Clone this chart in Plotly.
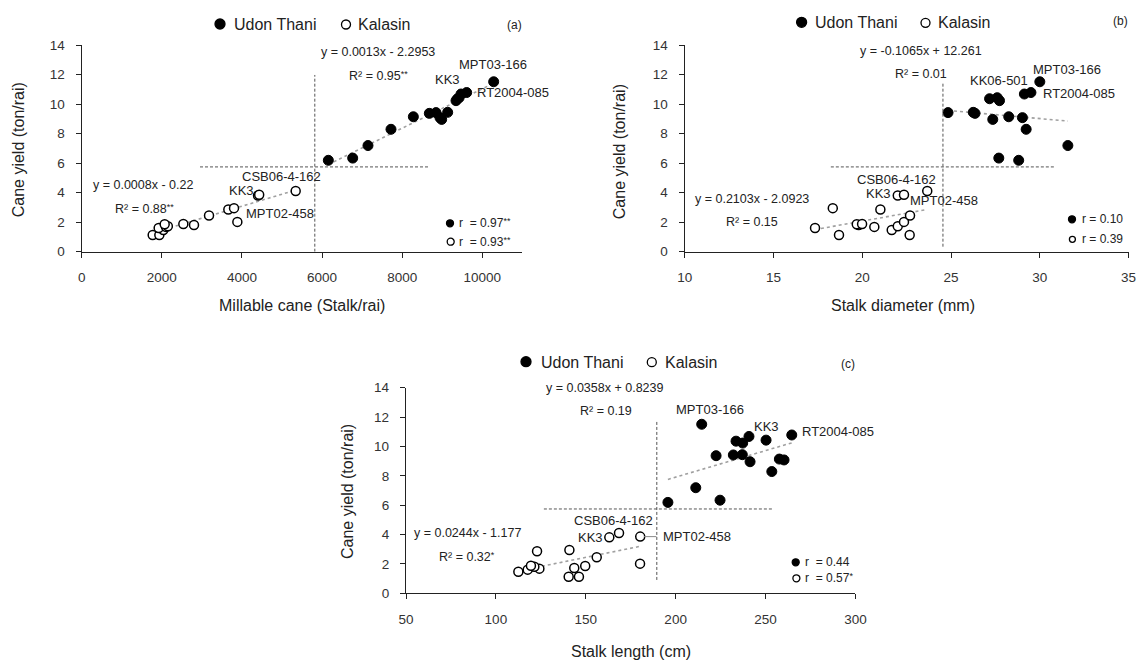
import numpy as np
import plotly.graph_objects as go

W, H = 1140, 661
FONT = "Arial, 'Liberation Sans', sans-serif"

# ---------------- data ----------------
# Udon Thani genotypes
udon_yield = [6.19, 6.34, 7.19, 8.29, 8.96, 9.08, 9.14, 9.37, 9.42, 9.44, 10.23, 10.36, 10.43, 10.68, 10.78, 11.51]
udon_millable = [6156, 6764, 7146, 7720, 8985, 8943, 8278, 8677, 8844, 9135, 9343, 9380, 9420, 9468, 9609, 10283]
udon_diameter = [28.81, 27.69, 31.58, 29.23, 27.35, 29.02, 28.25, 26.35, 24.83, 26.25, 27.73, 27.17, 27.6, 29.13, 29.5, 30.0]
udon_length = [195.7, 224.7, 211.2, 253.5, 241.4, 260.3, 257.7, 222.5, 232.1, 237.1, 237.3, 233.6, 250.3, 240.8, 264.6, 214.5]

# Kalasin genotypes
kal_yield = [1.13, 1.13, 1.47, 1.61, 1.68, 1.72, 1.81, 1.86, 1.88, 2.02, 2.45, 2.86, 2.95, 3.81, 3.86, 4.11]
kal_millable = [1772, 1938, 2038, 1921, 2104, 2150, 2803, 2071, 2537, 3885, 3178, 3660, 3802, 4401, 4430, 5341]
kal_diameter = [22.67, 18.69, 21.66, 17.34, 20.68, 22.0, 19.8, 19.69, 19.99, 22.35, 22.69, 21.02, 18.34, 22.0, 22.35, 23.66]
kal_length = [140.5, 146.2, 112.5, 117.7, 124.2, 143.6, 121.4, 149.7, 119.5, 180.2, 156.1, 122.9, 140.9, 163.1, 180.3, 168.5]

# extents of the dashed cross (x0, x1, y0, y1) per panel
cross_a = [2953, 8677, 0.0, 11.97]
cross_b = [18.23, 30.79, 0.34, 11.4]
cross_c = [126.7, 254.3, 0.91, 11.69]

x_titles = ["Millable cane (Stalk/rai)", "Stalk diameter (mm)", "Stalk length (cm)"]
y_title = "Cane yield (ton/rai)"
x_ranges = [[0, 11000], [10, 35], [50, 300]]
x_dticks = [2000, 5, 50]


def px(x):
    return x / W


def py(y):
    return 1 - y / H


fig = go.Figure()

panels = [
    ("x", "y", udon_millable, kal_millable, cross_a),
    ("x2", "y2", udon_diameter, kal_diameter, cross_b),
    ("x3", "y3", udon_length, kal_length, cross_c),
]

for xr, yr, ux, kx, cr in panels:
    # trend lines
    for xs, ys in ((ux, udon_yield), (kx, kal_yield)):
        k, b = np.polyfit(xs, ys, 1)
        xx = np.array([min(xs), max(xs)])
        fig.add_trace(go.Scatter(x=xx, y=k * xx + b, mode="lines", xaxis=xr, yaxis=yr,
                                 line=dict(color="#a0a0a0", width=1.6, dash="dot"),
                                 hoverinfo="skip", showlegend=False))
    # dashed cross at overall means
    mx = float(np.mean(list(ux) + list(kx)))
    my = float(np.mean(udon_yield + kal_yield))
    fig.add_shape(type="line", xref=xr, yref=yr, x0=cr[0], x1=cr[1], y0=my, y1=my,
                  line=dict(color="#555555", width=1, dash="3px,2px"))
    fig.add_shape(type="line", xref=xr, yref=yr, x0=mx, x1=mx, y0=cr[2], y1=cr[3],
                  line=dict(color="#555555", width=1, dash="3px,2px"))
    fig.add_trace(go.Scatter(x=ux, y=udon_yield, mode="markers", xaxis=xr, yaxis=yr, name="Udon Thani",
                             marker=dict(size=10, color="black", line=dict(color="black", width=1)),
                             showlegend=False))
    fig.add_trace(go.Scatter(x=kx, y=kal_yield, mode="markers", xaxis=xr, yaxis=yr, name="Kalasin",
                             marker=dict(size=9, color="white", line=dict(color="black", width=1.5)),
                             showlegend=False))

# leader line for MPT02-458 in panel (c)
fig.add_shape(type="line", xref="x3", yref="y3", x0=kal_length[14] + 2, x1=kal_length[14] + 9,
              y0=kal_yield[14], y1=kal_yield[14], line=dict(color="#888888", width=1))

# ---------------- axes ----------------
domains = [
    ([px(81.7), px(522.4)], [py(251.7), py(45)]),
    ([px(684.7), px(1128.6)], [py(251.7), py(45)]),
    ([px(406), px(855.4)], [py(593.3), py(387.7)]),
]
for i, (dx, dy) in enumerate(domains):
    sx = "" if i == 0 else str(i + 1)
    common = dict(showline=True, linecolor="#222222", linewidth=1.3, ticks="outside", ticklen=5,
                  tickwidth=1.3, tickcolor="#222222", showgrid=False, zeroline=False,
                  tickfont=dict(family=FONT, size=13.5, color="#333333"), ticklabelstandoff=8,
                  tickformat="d", automargin=False)
    fig.update_layout(**{
        "xaxis" + sx: dict(domain=dx, range=x_ranges[i], dtick=x_dticks[i], tick0=x_ranges[i][0],
                           anchor="y" + sx, **common),
        "yaxis" + sx: dict(domain=dy, range=[0, 14], dtick=2, tick0=0, anchor="x" + sx, **common),
    })

ann = []


def text(t, x, y, anchor="center", size=13, angle=0, color="#222222"):
    ann.append(dict(text=t, x=px(x), y=py(y), xref="paper", yref="paper", xanchor=anchor,
                    yanchor="middle", showarrow=False, textangle=angle,
                    font=dict(family=FONT, size=size, color=color)))


shapes = []


def circle(x, y, d, filled):
    shapes.append(dict(type="circle", xref="paper", yref="paper",
                       x0=px(x - d / 2), x1=px(x + d / 2), y0=py(y + d / 2), y1=py(y - d / 2),
                       fillcolor="black" if filled else "white",
                       line=dict(color="black", width=1.3)))


def star(s):
    return "<span style='font-size:9px;baseline-shift:3px'>" + s + "</span>"


# axis titles
text(y_title, 18.3, 150, size=16, angle=-90)
text(y_title, 619.2, 152, size=16, angle=-90)
text(y_title, 348, 492, size=16, angle=-90)
text(x_titles[0], 302, 305, size=16)
text(x_titles[1], 903, 305, size=16)
text(x_titles[2], 630.5, 651, size=16)

# legends
for (fx, fy, tx, ox, kx2) in [(220, 24, 231.7, 346, 356), (801.6, 22.3, 812.7, 925.5, 935.5),
                              (526, 361.7, 538.6, 651.8, 662.5)]:
    circle(fx, fy, 10, True)
    text("Udon Thani", tx, fy + 0.5, anchor="left", size=16)
    circle(ox, fy + 0.5, 9, False)
    text("Kalasin", kx2, fy + 0.5, anchor="left", size=16)

# panel letters
text("(a)", 514, 25, size=12)
text("(b)", 1120.5, 20.7, size=12)
text("(c)", 848.2, 364.3, size=12)

EQ = 12.5
# panel (a)
text("y = 0.0013x - 2.2953", 378.3, 51.7, size=EQ)
text("R² = 0.95" + star("**"), 378.5, 76, size=EQ)
text("MPT03-166", 493, 65)
text("KK3", 447.3, 80)
text("RT2004-085", 475, 92, anchor="left")
text("CSB06-4-162", 281.7, 176.7)
text("KK3", 241, 191)
text("MPT02-458", 280, 213.3)
text("y = 0.0008x - 0.22", 143.3, 185, size=EQ)
text("R² = 0.88" + star("**"), 144, 209, size=EQ)
circle(450, 223.3, 7, True)
text("r  = 0.97" + star("**"), 457, 223.5, anchor="left", size=12)
circle(450.7, 241.7, 7, False)
text("r  = 0.93" + star("**"), 457, 241.7, anchor="left", size=12)

# panel (b)
text("y = -0.1065x + 12.261", 920.7, 50.7, size=EQ)
text("R² = 0.01", 921.4, 74, size=EQ)
text("MPT03-166", 1066.8, 69)
text("KK06-501", 999, 81)
text("RT2004-085", 1041, 93.3, anchor="left")
text("CSB06-4-162", 896.7, 179.3)
text("KK3", 878, 193.3)
text("MPT02-458", 943.6, 201)
text("y = 0.2103x - 2.0923", 752.4, 199.3, size=EQ)
text("R² = 0.15", 752.4, 222.3, size=EQ)
circle(1072, 219.3, 7, True)
text("r = 0.10", 1080, 219.3, anchor="left", size=12)
circle(1072.4, 239.3, 6, False)
text("r = 0.39", 1080, 239.3, anchor="left", size=12)

# panel (c)
text("y = 0.0358x + 0.8239", 605.4, 388.3, size=EQ)
text("R² = 0.19", 606.4, 411.3, size=EQ)
text("MPT03-166", 709.6, 409.3)
text("KK3", 766.8, 426)
text("RT2004-085", 800, 431.7, anchor="left")
text("CSB06-4-162", 613.2, 520.7)
text("KK3", 591, 537.3)
text("MPT02-458", 660.7, 536.7, anchor="left")
text("y = 0.0244x - 1.177", 467.9, 533.3, size=EQ)
text("R² = 0.32" + star("*"), 467.1, 556.7, size=EQ)
circle(795.7, 562.3, 7, True)
text("r  = 0.44", 803, 562.3, anchor="left", size=12)
circle(796.4, 578.3, 7, False)
text("r  = 0.57" + star("*"), 803, 578.3, anchor="left", size=12)

fig.update_layout(width=W, height=H, margin=dict(l=0, r=0, t=0, b=0, pad=0),
                  paper_bgcolor="white", plot_bgcolor="white", showlegend=False,
                  annotations=ann, shapes=list(fig.layout.shapes) + shapes,
                  font=dict(family=FONT))

fig.write_html("out.html", config={"displayModeBar": False},
               post_script="document.body.style.margin='0';document.body.style.overflow='hidden';")
